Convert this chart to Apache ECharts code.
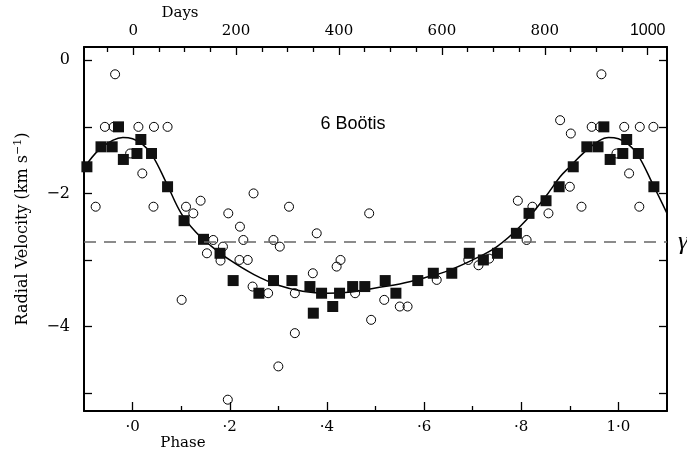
<!DOCTYPE html>
<html>
<head>
<meta charset="utf-8">
<script src="https://cdn.jsdelivr.net/npm/echarts@6/dist/echarts.min.js"></script>
<style>html,body{margin:0;padding:0;background:#fff}#c{width:687px;height:454px}</style>
</head>
<body>
<div id="c"></div>
<script>
// ---- data ----
const squarePhase = [-0.094,-0.065,-0.042,-0.029,-0.019,0.009,0.017,0.039,0.072,0.106,0.146,0.180,0.207,0.260,0.290,0.328,0.365,0.372,0.389,0.412,0.426,0.453,0.478,0.520,0.542,0.587,0.619,0.657,0.693,0.722,0.751,0.790,0.816,0.851,0.878,0.907,0.935,0.958,0.970,0.983,1.009,1.017,1.041,1.073];
const squareVel   = [-1.60,-1.30,-1.30,-1.00,-1.49,-1.40,-1.19,-1.40,-1.90,-2.41,-2.69,-2.90,-3.31,-3.50,-3.31,-3.31,-3.40,-3.80,-3.50,-3.70,-3.50,-3.40,-3.40,-3.31,-3.50,-3.31,-3.20,-3.20,-2.90,-3.00,-2.90,-2.60,-2.30,-2.11,-1.90,-1.60,-1.30,-1.30,-1.00,-1.49,-1.40,-1.19,-1.40,-1.90];

const circlePhase = [-0.076,-0.057,-0.039,-0.036,-0.005,0.012,0.020,0.043,0.044,0.072,0.101,0.110,0.125,0.140,0.153,0.166,0.181,0.186,0.196,0.197,0.220,0.221,0.228,0.237,0.247,0.249,0.279,0.290,0.300,0.303,0.322,0.334,0.334,0.371,0.379,0.420,0.428,0.458,0.487,0.491,0.518,0.550,0.566,0.626,0.691,0.712,0.734,0.793,0.811,0.823,0.856,0.880,0.900,0.902,0.924,0.945,0.962,0.965,0.996,1.012,1.022,1.043,1.044,1.072];
const circleVel   = [-2.20,-1.00,-1.00,-0.21,-1.40,-1.00,-1.70,-2.20,-1.00,-1.00,-3.60,-2.20,-2.30,-2.11,-2.90,-2.70,-3.01,-2.80,-5.10,-2.30,-3.00,-2.50,-2.70,-3.00,-3.40,-2.00,-3.50,-2.70,-4.60,-2.80,-2.20,-3.50,-4.10,-3.20,-2.60,-3.10,-3.00,-3.50,-2.30,-3.90,-3.60,-3.70,-3.70,-3.30,-3.00,-3.08,-2.98,-2.11,-2.70,-2.20,-2.30,-0.90,-1.90,-1.10,-2.20,-1.00,-1.00,-0.21,-1.40,-1.00,-1.70,-2.20,-1.00,-1.00];

const curvePhase = [-0.10,-0.07,-0.04,-0.02,0.00,0.02,0.04,0.07,0.10,0.13,0.16,0.20,0.25,0.30,0.35,0.40,0.45,0.50,0.55,0.60,0.65,0.70,0.75,0.80,0.85,0.88,0.90,0.93,0.96,0.98,1.00,1.02,1.04,1.07,1.10];
const curveVel   = [-1.62,-1.35,-1.20,-1.16,-1.18,-1.26,-1.42,-1.85,-2.30,-2.58,-2.78,-3.00,-3.22,-3.38,-3.47,-3.50,-3.48,-3.42,-3.36,-3.27,-3.16,-3.00,-2.80,-2.48,-2.05,-1.75,-1.60,-1.38,-1.21,-1.16,-1.18,-1.26,-1.42,-1.85,-2.30];

const gammaVel = -2.73;

const phaseMajorTicks = [0, 0.2, 0.4, 0.6, 0.8, 1.0];
const phaseMinorTicks = [0.1, 0.3, 0.5, 0.7, 0.9];
const dayMajorTicks = [0, 200, 400, 600, 800, 1000];
const dayMinorTicks = [-50, 50, 100, 150, 250, 300, 350, 450, 500, 550, 650, 700, 750, 850, 900, 950];
const velTicks = [-5, -4, -3, -2, -1, 0];
const velLabels = [-4, -2, 0];

const phaseMin = -0.1, phaseMax = 1.1;
const dayMin = -95.6, dayMax = 1037.5;
const velMin = -5.27, velMax = 0.2;

// ---- chart ----
const serif = "'DejaVu Serif', serif";
const zip = (a, b) => a.map((v, i) => [v, b[i]]);

const chart = echarts.init(document.getElementById('c'), null, {renderer: 'canvas'});

const baseX = {
  type: 'value', min: phaseMin, max: phaseMax, splitLine: {show: false}
};

chart.setOption({
  animation: false,
  backgroundColor: '#fff',
  grid: {left: 84, right: 20, top: 47, bottom: 43, outerBoundsMode: 'none'},
  xAxis: [
    Object.assign({}, baseX, {
      position: 'bottom',
      axisLine: {show: true, onZero: false, lineStyle: {color: '#000', width: 2}},
      axisTick: {show: true, inside: true, length: 9, customValues: phaseMajorTicks, lineStyle: {color: '#000', width: 1.3}},
      axisLabel: {show: true, customValues: phaseMajorTicks, margin: 9, color: '#000', fontFamily: serif, fontSize: 15,
        formatter: v => Math.abs(v - 1) < 1e-9 ? '1·0' : '·' + Math.round(v * 10)}
    }),
    Object.assign({}, baseX, {
      position: 'bottom',
      axisLine: {show: false, onZero: false},
      axisTick: {show: true, inside: true, length: 5, customValues: phaseMinorTicks, lineStyle: {color: '#000', width: 1.3}},
      axisLabel: {show: false}
    }),
    {
      type: 'value', min: dayMin, max: dayMax, position: 'top', splitLine: {show: false},
      axisLine: {show: true, onZero: false, lineStyle: {color: '#000', width: 2}},
      axisTick: {show: true, inside: true, length: 8, customValues: dayMajorTicks, lineStyle: {color: '#000', width: 1.3}},
      axisLabel: {show: true, customValues: dayMajorTicks, margin: 8, color: '#000', fontFamily: serif, fontSize: 15,
        formatter: v => v === 1000 ? '{s|1000}' : String(v),
        rich: {s: {fontFamily: "'Liberation Sans', sans-serif", fontSize: 16, color: '#000'}}}
    },
    {
      type: 'value', min: dayMin, max: dayMax, position: 'top', splitLine: {show: false},
      axisLine: {show: false, onZero: false},
      axisTick: {show: true, inside: true, length: 5, customValues: dayMinorTicks, lineStyle: {color: '#000', width: 1.3}},
      axisLabel: {show: false}
    }
  ],
  yAxis: [
    {
      type: 'value', min: velMin, max: velMax, position: 'left', splitLine: {show: false},
      axisLine: {show: true, onZero: false, lineStyle: {color: '#000', width: 2}},
      axisTick: {show: true, inside: true, length: 8, customValues: velTicks, lineStyle: {color: '#000', width: 1.3}},
      axisLabel: {show: true, customValues: velLabels, margin: 14, color: '#000', fontFamily: serif, fontSize: 16,
        formatter: v => v === 0 ? '0' : '\u2212' + Math.abs(v)},
      name: 'Radial Velocity (km s{sup|\u22121})',
      nameLocation: 'middle', nameRotate: 90, nameGap: 52,
      nameTextStyle: {color: '#000', fontFamily: serif, fontSize: 16,
        rich: {sup: {fontFamily: serif, fontSize: 11, color: '#000', verticalAlign: 'top', padding: [0, 0, 8, 0]}}}
    },
    {
      type: 'value', min: velMin, max: velMax, position: 'right', splitLine: {show: false},
      axisLine: {show: true, onZero: false, lineStyle: {color: '#000', width: 2}},
      axisTick: {show: true, inside: true, length: 8, customValues: velTicks, lineStyle: {color: '#000', width: 1.3}},
      axisLabel: {show: false}
    }
  ],
  series: [
    {
      type: 'scatter', name: 'open', xAxisIndex: 0, yAxisIndex: 0,
      symbol: 'circle', symbolSize: 9,
      itemStyle: {color: 'rgba(0,0,0,0)', borderColor: '#000', borderWidth: 1, opacity: 1},
      data: zip(circlePhase, circleVel), z: 2,
      markLine: {
        silent: true, symbol: ['none', 'none'], label: {show: false},
        lineStyle: {color: '#666', type: [12, 8], width: 1.5},
        data: [{yAxis: gammaVel}]
      }
    },
    {
      type: 'line', name: 'orbit', xAxisIndex: 0, yAxisIndex: 0,
      showSymbol: false, smooth: 0.4,
      lineStyle: {color: '#000', width: 1.5},
      data: zip(curvePhase, curveVel), z: 3
    },
    {
      type: 'scatter', name: 'filled', xAxisIndex: 0, yAxisIndex: 0,
      symbol: 'rect', symbolSize: 11,
      itemStyle: {color: '#111', opacity: 1},
      data: zip(squarePhase, squareVel), z: 4
    }
  ],
  graphic: [
    {type: 'text', x: 180, y: 13, style: {text: 'Days', fill: '#000', font: "15px 'DejaVu Serif'", align: 'center', verticalAlign: 'middle'}},
    {type: 'text', x: 183, y: 443, style: {text: 'Phase', fill: '#000', font: "15px 'DejaVu Serif'", align: 'center', verticalAlign: 'middle'}},
    {type: 'text', x: 353, y: 124, style: {text: '6 Boötis', fill: '#000', font: "18px 'Liberation Sans'", align: 'center', verticalAlign: 'middle'}},
    {type: 'text', x: 683, y: 242, style: {text: 'γ', fill: '#000', font: "italic 26px 'Liberation Serif'", align: 'center', verticalAlign: 'middle'}}
  ]
});
</script>
</body>
</html>
